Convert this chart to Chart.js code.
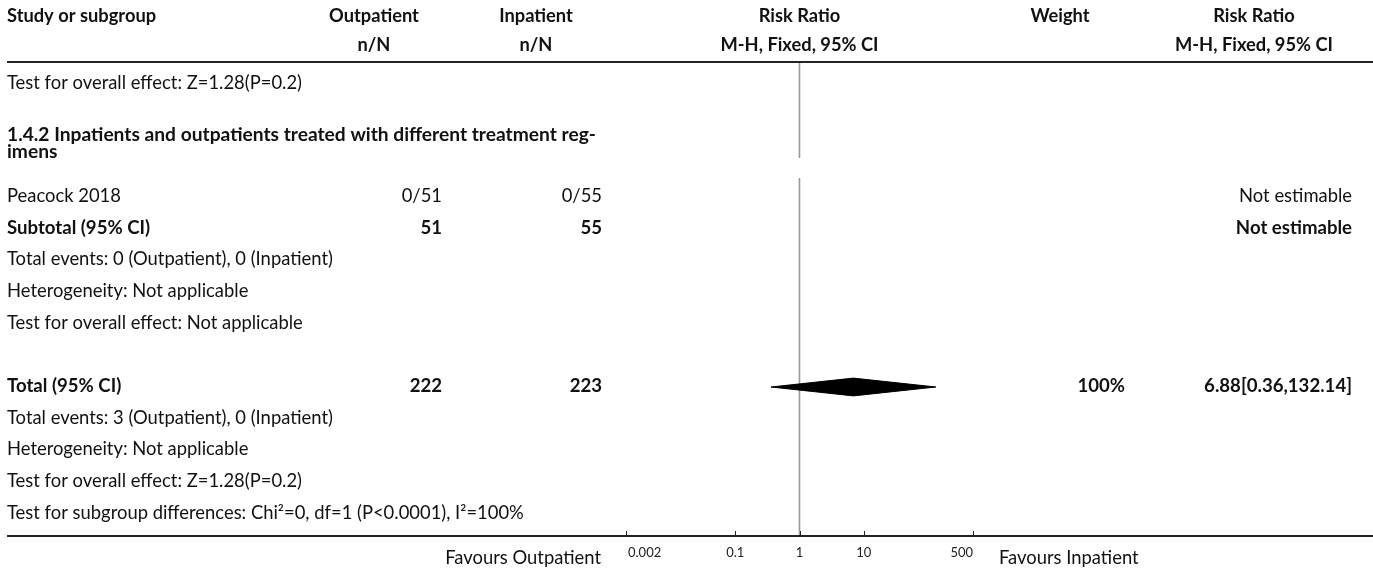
<!DOCTYPE html>
<html>
<head>
<meta charset="utf-8">
<script src="https://cdn.jsdelivr.net/npm/chart.js@4"></script>
<style>
  html, body { margin: 0; padding: 0; background: #ffffff; }
  #wrap { position: relative; width: 1373px; height: 570px; }
</style>
</head>
<body>
<div id="wrap"><canvas id="c" width="1373" height="570"></canvas></div>
<script>
// ---------------- data ----------------
const headerTop = ["Study or subgroup", "Outpatient", "Inpatient", "Risk Ratio", "Weight", "Risk Ratio"];
const headerSub = ["", "n/N", "n/N", "M-H, Fixed, 95% CI", "", "M-H, Fixed, 95% CI"];

const rowLabels = [
  "Test for overall effect: Z=1.28(P=0.2)",
  "",
  "1.4.2 Inpatients and outpatients treated with different treatment reg-\nimens",
  "Peacock 2018",
  "Subtotal (95% CI)",
  "Total events: 0 (Outpatient), 0 (Inpatient)",
  "Heterogeneity: Not applicable",
  "Test for overall effect: Not applicable",
  "",
  "Total (95% CI)",
  "Total events: 3 (Outpatient), 0 (Inpatient)",
  "Heterogeneity: Not applicable",
  "Test for overall effect: Z=1.28(P=0.2)",
  "Test for subgroup differences: Chi\u00b2=0, df=1 (P<0.0001), I\u00b2=100%"
];
const rowKinds = ["note", "blank", "heading", "study", "subtotal", "note", "note", "note", "blank", "total", "note", "note", "note", "note"];
const outpatientCol = ["", "", "", "0/51", "51", "", "", "", "", "222", "", "", "", ""];
const inpatientCol  = ["", "", "", "0/55", "55", "", "", "", "", "223", "", "", "", ""];
const weightCol     = ["", "", "", "", "", "", "", "", "", "100%", "", "", "", ""];
const rrTextCol     = ["", "", "", "Not estimable", "Not estimable", "", "", "", "", "6.88[0.36,132.14]", "", "", "", ""];

const pooledRowIndex = 9;
const pooledRR = [6.88];
const pooledLower = [0.36];
const pooledUpper = [132.14];

const xTicks = [0.002, 0.1, 1, 10, 500];
const xTickLabels = ["0.002", "0.1", "1", "10", "500"];
const favoursLeft = "Favours Outpatient";
const favoursRight = "Favours Inpatient";

// ---------------- layout helpers ----------------
const FONT = "Lato";
const FS_REG = 18.4, FS_BOLD = 18.6, FS_HEAD = 18.3, FS_GROUP = 19.2;
const ROWS_MAX = 14.92;
const HEADING_EXTRA = 0.63;
function rowPos(i) { return i + (i >= 3 ? HEADING_EXTRA : 0) + 0.5; }

const DIAMOND_HALF = 0.28;
const dx = pooledRR[0], lo = pooledLower[0], hi = pooledUpper[0];
const ry = rowPos(pooledRowIndex) + 0.09;
const diamondPts = [
  { x: lo, y: ry },
  { x: dx, y: ry - DIAMOND_HALF },
  { x: hi, y: ry },
  { x: dx, y: ry + DIAMOND_HALF },
  { x: lo, y: ry }
];

const tablePlugin = {
  id: 'forestTable',
  beforeDatasetsDraw(chart) {
    const ctx = chart.ctx;
    const xs = chart.scales.x, ys = chart.scales.y;
    const x1 = xs.getPixelForValue(1);
    ctx.save();
    ctx.strokeStyle = '#9a9a9a';
    ctx.lineWidth = 1.6;
    ctx.beginPath();
    ctx.moveTo(x1, ys.getPixelForValue(0));
    ctx.lineTo(x1, ys.getPixelForValue(3));
    ctx.moveTo(x1, ys.getPixelForValue(3 + HEADING_EXTRA));
    ctx.lineTo(x1, ys.getPixelForValue(ROWS_MAX));
    ctx.stroke();
    ctx.restore();
  },
  afterDraw(chart) {
    const ctx = chart.ctx;
    const xs = chart.scales.x, ys = chart.scales.y;
    const W = chart.width;
    const x1 = xs.getPixelForValue(1);
    const top = ys.getPixelForValue(0);
    const bottom = ys.getPixelForValue(ROWS_MAX);
    ctx.save();
    ctx.fillStyle = '#111';
    ctx.textBaseline = 'middle';

    const colLeft = 7;
    const colOutC = 374, colOutR = 442;
    const colInC = 536, colInR = 602;
    const colWC = 1060, colWR = 1125;
    const colRRC = 1254, colRRR = 1352;

    ctx.font = `bold ${FS_HEAD}px ${FONT}`;
    const hy1 = 16, hy2 = 45;
    ctx.textAlign = 'left';
    ctx.fillText(headerTop[0], colLeft, hy1);
    ctx.textAlign = 'center';
    ctx.fillText(headerTop[1], colOutC, hy1);
    ctx.fillText(headerSub[1], colOutC, hy2);
    ctx.fillText(headerTop[2], colInC, hy1);
    ctx.fillText(headerSub[2], colInC, hy2);
    ctx.fillText(headerTop[3], x1, hy1);
    ctx.fillText(headerSub[3], x1, hy2);
    ctx.fillText(headerTop[4], colWC, hy1);
    ctx.fillText(headerTop[5], colRRC, hy1);
    ctx.fillText(headerSub[5], colRRC, hy2);

    ctx.strokeStyle = '#222';
    ctx.lineWidth = 2;
    ctx.beginPath();
    ctx.moveTo(colLeft, top - 1);
    ctx.lineTo(W, top - 1);
    ctx.stroke();

    rowLabels.forEach((lab, i) => {
      const kind = rowKinds[i];
      if (kind === 'blank') return;
      const y = ys.getPixelForValue(rowPos(i)) + (i === 0 ? 4 : 2);
      const bold = (kind === 'heading' || kind === 'subtotal' || kind === 'total');
      ctx.textAlign = 'left';
      if (kind === 'heading') {
        ctx.font = `bold ${FS_GROUP}px ${FONT}`;
        const lines = lab.split('\n');
        lines.forEach((ln, j) => ctx.fillText(ln, colLeft, y - 1 + (j - (lines.length - 1) / 2) * 17));
        return;
      }
      ctx.font = `${bold ? 'bold ' : ''}${bold ? FS_BOLD : FS_REG}px ${FONT}`;
      ctx.fillText(lab, colLeft, y);
      ctx.textAlign = 'right';
      if (outpatientCol[i]) ctx.fillText(outpatientCol[i], colOutR, y);
      if (inpatientCol[i]) ctx.fillText(inpatientCol[i], colInR, y);
      if (weightCol[i]) ctx.fillText(weightCol[i], colWR, y);
      if (rrTextCol[i]) ctx.fillText(rrTextCol[i], colRRR, y);
    });

    ctx.strokeStyle = '#222';
    ctx.lineWidth = 2;
    ctx.beginPath();
    ctx.moveTo(colLeft, bottom);
    ctx.lineTo(W, bottom);
    ctx.stroke();
    ctx.lineWidth = 1;
    ctx.beginPath();
    xTicks.forEach(v => {
      const px = Math.round(xs.getPixelForValue(v)) + 0.5;
      ctx.moveTo(px, bottom);
      ctx.lineTo(px, bottom - 5);
    });
    ctx.stroke();

    ctx.font = `13px ${FONT}`;
    ctx.fillStyle = '#222';
    xTicks.forEach((v, i) => {
      const last = xTicks.length - 1;
      ctx.textAlign = i === 0 ? 'left' : (i === last ? 'right' : 'center');
      ctx.fillText(xTickLabels[i], xs.getPixelForValue(v) + (i === 0 ? 2 : 0), bottom + 17);
    });

    ctx.font = `${FS_REG}px ${FONT}`;
    ctx.fillStyle = '#111';
    ctx.textAlign = 'right';
    ctx.fillText(favoursLeft, xs.getPixelForValue(xTicks[0]) - 25, bottom + 22);
    ctx.textAlign = 'left';
    ctx.fillText(favoursRight, xs.getPixelForValue(xTicks[xTicks.length - 1]) + 26, bottom + 22);
    ctx.restore();
  }
};

new Chart(document.getElementById('c'), {
  type: 'scatter',
  data: {
    datasets: [{
      label: 'Total (95% CI)',
      data: diamondPts,
      showLine: true,
      fill: 'shape',
      backgroundColor: '#000',
      borderColor: '#000',
      borderWidth: 1,
      pointRadius: 0,
      pointHoverRadius: 0,
      tension: 0
    }]
  },
  options: {
    responsive: false,
    animation: false,
    events: [],
    layout: { padding: { left: 626, right: 400, top: 63, bottom: 34 } },
    plugins: { legend: { display: false }, tooltip: { enabled: false } },
    scales: {
      x: { type: 'logarithmic', min: 0.002, max: 500, bounds: 'data', display: false },
      y: { type: 'linear', min: 0, max: ROWS_MAX, reverse: true, display: false }
    }
  },
  plugins: [tablePlugin]
});
</script>
</body>
</html>
